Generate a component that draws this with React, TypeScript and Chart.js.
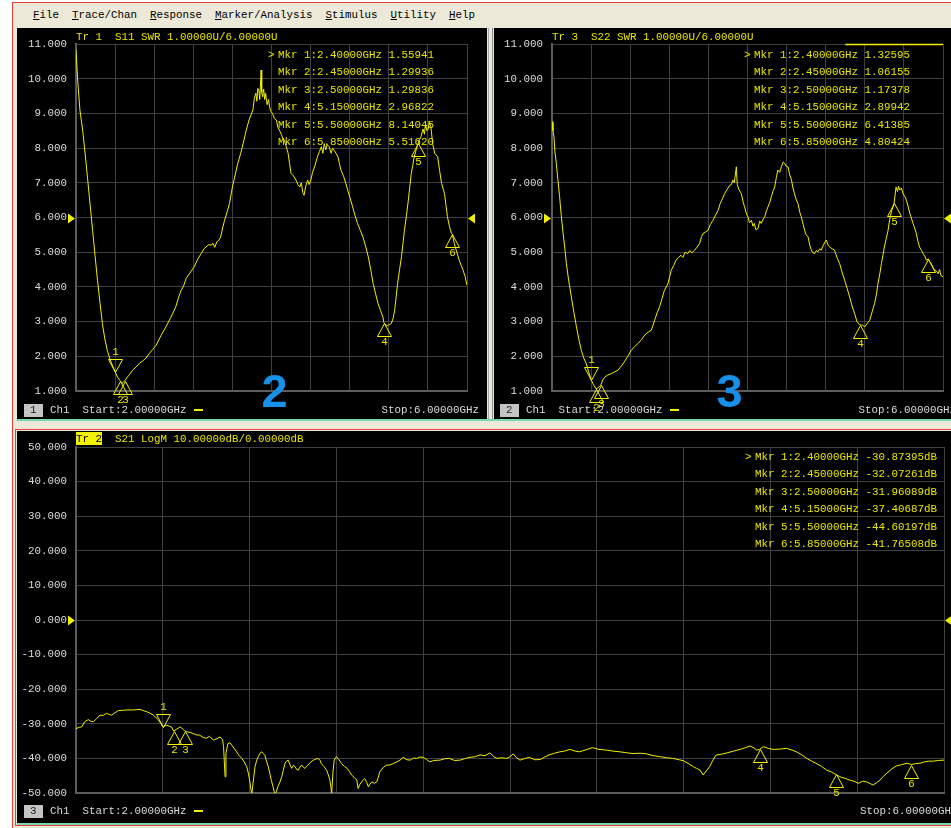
import React, { useEffect, useRef } from "react";
import { Chart, registerables } from "chart.js";

Chart.register(...registerables);

// ---- sweep / scale settings ----
const START_GHZ = 2;
const STOP_GHZ = 6;
const SWR_PER_DIV = 1;
const SWR_REF = 6;
const DB_PER_DIV = 10;
const DB_REF = 0;

// ---- S11 SWR trace ----
const S11_GHZ = [
  2.000, 2.017, 2.040, 2.068, 2.095, 2.120, 2.145, 2.170, 2.195, 2.220,
  2.245, 2.270, 2.295, 2.320, 2.350, 2.375, 2.400, 2.425, 2.450, 2.470,
  2.485, 2.500, 2.525, 2.546, 2.580, 2.614, 2.650, 2.680, 2.717, 2.750,
  2.785, 2.820, 2.870, 2.920, 2.970, 3.020, 3.050, 3.075, 3.100, 3.126,
  3.165, 3.210, 3.245, 3.280, 3.310, 3.330, 3.360, 3.385, 3.400, 3.420,
  3.440, 3.460, 3.480, 3.500, 3.520, 3.545, 3.570, 3.600, 3.630, 3.655,
  3.685, 3.710, 3.740, 3.770, 3.790, 3.810, 3.825, 3.840, 3.850, 3.860,
  3.870, 3.880, 3.894, 3.900, 3.910, 3.920, 3.930, 3.940, 3.955, 3.970,
  3.980, 3.995, 4.010, 4.030, 4.050, 4.065, 4.080, 4.100, 4.115, 4.130,
  4.150, 4.170, 4.185, 4.200, 4.225, 4.250, 4.270, 4.290, 4.305, 4.320,
  4.333, 4.350, 4.370, 4.385, 4.400, 4.420, 4.440, 4.455, 4.470, 4.490,
  4.510, 4.525, 4.540, 4.555, 4.570, 4.590, 4.610, 4.625, 4.640, 4.660,
  4.680, 4.695, 4.710, 4.740, 4.760, 4.780, 4.805, 4.830, 4.855, 4.880,
  4.910, 4.935, 4.965, 4.990, 5.015, 5.040, 5.065, 5.090, 5.115, 5.140,
  5.150, 5.170, 5.190, 5.210, 5.225, 5.245, 5.260, 5.275, 5.290, 5.310,
  5.330, 5.345, 5.360, 5.380, 5.400, 5.415, 5.430, 5.445, 5.460, 5.480,
  5.500, 5.515, 5.530, 5.550, 5.565, 5.575, 5.590, 5.600, 5.615, 5.630,
  5.650, 5.670, 5.700, 5.720, 5.740, 5.770, 5.785, 5.800, 5.820, 5.840,
  5.850, 5.870, 5.890, 5.920, 5.960, 5.980, 6.000,
];
const S11_SWR = [
  10.83, 9.96, 9.10, 8.52, 7.80, 7.08, 6.35, 5.63, 4.90, 4.19,
  3.55, 2.94, 2.50, 2.17, 1.90, 1.72, 1.55941, 1.40, 1.29936, 1.22,
  1.25, 1.29836, 1.40, 1.47, 1.60, 1.69, 1.80, 1.86, 1.95, 2.08,
  2.20, 2.32, 2.60, 2.85, 3.12, 3.42, 3.70, 3.90, 4.02, 4.24,
  4.40, 4.58, 4.80, 4.96, 5.10, 5.15, 5.22, 5.20, 5.26, 5.14,
  5.30, 5.34, 5.44, 5.70, 5.92, 6.15, 6.40, 6.88, 7.25, 7.56,
  7.85, 8.13, 8.50, 8.81, 8.95, 9.10, 9.45, 9.58, 9.35, 9.72,
  9.67, 9.40, 10.25, 9.60, 9.48, 9.70, 9.40, 9.58, 9.25, 9.40,
  9.19, 9.05, 9.00, 8.85, 8.81, 8.60, 8.52, 8.40, 8.28, 8.23,
  8.05, 7.85, 7.55, 7.27, 7.20, 7.08, 6.95, 6.88, 7.00, 6.72,
  6.64, 6.90, 7.08, 6.95, 7.05, 7.30, 7.46, 7.60, 7.75, 7.90,
  8.04, 7.85, 8.13, 7.95, 8.10, 8.04, 7.85, 8.00, 7.94, 7.85,
  7.75, 7.55, 7.37, 7.17, 6.98, 6.79, 6.55, 6.31, 6.05, 5.83,
  5.62, 5.44, 5.15, 4.87, 4.50, 4.10, 3.80, 3.52, 3.32, 3.13,
  2.96822, 2.90, 2.89, 2.92, 2.94, 3.10, 3.33, 3.70, 4.10, 4.50,
  4.87, 5.25, 5.63, 6.05, 6.50, 6.90, 7.27, 7.50, 7.75, 7.95,
  8.14045, 8.25, 8.33, 8.55, 8.40, 8.71, 8.50, 8.52, 8.75, 8.62,
  8.10, 7.85, 7.75, 7.35, 6.98, 6.69, 6.35, 6.02, 5.75, 5.55,
  5.5162, 5.25, 5.06, 4.77, 4.48, 4.30, 4.05,
];

// ---- S22 SWR trace ----
const S22_GHZ = [
  2.000, 2.010, 2.020, 2.030, 2.044, 2.060, 2.078, 2.095, 2.110, 2.130,
  2.147, 2.170, 2.198, 2.225, 2.250, 2.275, 2.300, 2.325, 2.350, 2.375,
  2.400, 2.425, 2.450, 2.475, 2.500, 2.520, 2.540, 2.570, 2.607, 2.640,
  2.675, 2.710, 2.740, 2.775, 2.810, 2.845, 2.880, 2.915, 2.948, 2.985,
  3.016, 3.050, 3.075, 3.100, 3.125, 3.150, 3.187, 3.220, 3.245, 3.270,
  3.295, 3.320, 3.340, 3.360, 3.390, 3.410, 3.430, 3.460, 3.485, 3.510,
  3.530, 3.545, 3.570, 3.596, 3.620, 3.647, 3.670, 3.700, 3.720, 3.745,
  3.766, 3.790, 3.818, 3.835, 3.850, 3.865, 3.886, 3.895, 3.910, 3.937,
  3.955, 3.970, 3.990, 4.005, 4.020, 4.040, 4.055, 4.070, 4.085, 4.107,
  4.125, 4.140, 4.160, 4.176, 4.195, 4.210, 4.230, 4.244, 4.260, 4.278,
  4.295, 4.310, 4.330, 4.346, 4.365, 4.380, 4.395, 4.415, 4.430, 4.450,
  4.465, 4.480, 4.500, 4.517, 4.535, 4.550, 4.570, 4.585, 4.600, 4.620,
  4.637, 4.653, 4.670, 4.687, 4.705, 4.720, 4.740, 4.755, 4.775, 4.795,
  4.806, 4.825, 4.840, 4.865, 4.890, 4.915, 4.943, 4.970, 4.994, 5.020,
  5.045, 5.070, 5.096, 5.120, 5.150, 5.175, 5.200, 5.225, 5.250, 5.275,
  5.300, 5.320, 5.335, 5.355, 5.370, 5.385, 5.400, 5.420, 5.438, 5.455,
  5.475, 5.500, 5.510, 5.520, 5.535, 5.545, 5.557, 5.575, 5.590, 5.610,
  5.625, 5.645, 5.660, 5.680, 5.693, 5.710, 5.727, 5.745, 5.760, 5.780,
  5.795, 5.815, 5.830, 5.850, 5.865, 5.880, 5.900, 5.915, 5.935, 5.950,
  5.965, 5.980, 6.000,
];
const S22_SWR = [
  8.76, 8.50, 8.33, 7.90, 7.56, 7.10, 6.60, 6.05, 5.63, 5.15,
  4.67, 4.20, 3.71, 3.25, 2.85, 2.48, 2.17, 1.95, 1.79, 1.55,
  1.32595, 1.18, 1.06155, 1.10, 1.17378, 1.32, 1.40, 1.46, 1.50, 1.55,
  1.60, 1.72, 1.84, 2.00, 2.17, 2.28, 2.37, 2.48, 2.61, 2.70,
  2.75, 3.04, 3.25, 3.42, 3.66, 3.90, 4.10, 4.48, 4.62, 4.77,
  4.85, 4.91, 4.85, 5.00, 4.96, 5.05, 4.98, 5.06, 5.15, 5.25,
  5.45, 5.54, 5.58, 5.63, 5.80, 5.92, 6.05, 6.21, 6.40, 6.55,
  6.69, 6.80, 6.93, 6.95, 7.08, 7.00, 7.46, 6.95, 6.82, 6.69,
  6.45, 6.31, 6.10, 6.02, 5.85, 5.92, 5.75, 5.83, 5.65, 5.68,
  5.90, 5.83, 5.95, 6.02, 6.20, 6.31, 6.45, 6.60, 6.75, 6.88,
  7.15, 7.37, 7.30, 7.46, 7.60, 7.56, 7.48, 7.46, 7.25, 7.08,
  6.85, 6.69, 6.50, 6.40, 6.15, 6.02, 5.80, 5.63, 5.50, 5.44,
  5.20, 5.06, 4.98, 4.96, 5.05, 5.01, 5.10, 5.06, 5.20, 5.30,
  5.35, 5.20, 5.15, 5.10, 5.06, 4.85, 4.67, 4.40, 4.19, 3.95,
  3.71, 3.45, 3.23, 3.00, 2.89942, 2.90, 2.85, 2.95, 3.04, 3.28,
  3.52, 3.80, 4.10, 4.40, 4.67, 4.90, 5.15, 5.40, 5.63, 5.95,
  6.20, 6.41385, 6.65, 6.88, 6.75, 6.90, 6.79, 6.85, 6.69, 6.60,
  6.50, 6.30, 6.12, 5.95, 5.83, 5.70, 5.54, 5.30, 5.15, 5.05,
  4.96, 4.88, 4.77, 4.80424, 4.72, 4.67, 4.55, 4.48, 4.45, 4.38,
  4.50, 4.32, 4.29,
];

// ---- S21 LogM trace (dB) ----
const S21_GHZ = [
  2.000, 2.015, 2.026, 2.040, 2.057, 2.070, 2.080, 2.095, 2.110, 2.125,
  2.140, 2.155, 2.165, 2.180, 2.195, 2.215, 2.234, 2.250, 2.264, 2.280,
  2.295, 2.310, 2.326, 2.340, 2.356, 2.370, 2.380, 2.390, 2.400, 2.410,
  2.418, 2.430, 2.440, 2.450, 2.465, 2.480, 2.490, 2.500, 2.510, 2.525,
  2.540, 2.555, 2.570, 2.585, 2.600, 2.615, 2.633, 2.650, 2.664, 2.675,
  2.680, 2.687, 2.691, 2.694, 2.700, 2.710, 2.718, 2.730, 2.740, 2.752,
  2.764, 2.775, 2.787, 2.795, 2.800, 2.810, 2.818, 2.825, 2.833, 2.840,
  2.848, 2.856, 2.863, 2.870, 2.878, 2.886, 2.893, 2.900, 2.908, 2.917,
  2.924, 2.930, 2.940, 2.948, 2.955, 2.963, 2.970, 2.978, 2.986, 2.994,
  3.002, 3.010, 3.017, 3.024, 3.032, 3.040, 3.047, 3.055, 3.063, 3.070,
  3.082, 3.094, 3.105, 3.117, 3.125, 3.130, 3.142, 3.155, 3.163, 3.170,
  3.175, 3.178, 3.184, 3.190, 3.200, 3.212, 3.224, 3.237, 3.250, 3.260,
  3.270, 3.282, 3.294, 3.300, 3.308, 3.317, 3.325, 3.330, 3.340, 3.347,
  3.355, 3.363, 3.375, 3.386, 3.393, 3.400, 3.416, 3.430, 3.447, 3.462,
  3.478, 3.493, 3.508, 3.525, 3.540, 3.555, 3.570, 3.585, 3.600, 3.615,
  3.630, 3.650, 3.677, 3.700, 3.720, 3.745, 3.770, 3.795, 3.816, 3.840,
  3.862, 3.885, 3.908, 3.925, 3.940, 3.960, 3.985, 4.000, 4.015, 4.030,
  4.046, 4.070, 4.090, 4.115, 4.140, 4.160, 4.180, 4.205, 4.230, 4.250,
  4.276, 4.300, 4.320, 4.350, 4.380, 4.410, 4.445, 4.475, 4.507, 4.540,
  4.568, 4.600, 4.630, 4.660, 4.690, 4.720, 4.750, 4.780, 4.800, 4.825,
  4.845, 4.860, 4.876, 4.890, 4.905, 4.920, 4.935, 4.950, 4.975, 5.000,
  5.030, 5.060, 5.085, 5.106, 5.125, 5.137, 5.150, 5.167, 5.190, 5.213,
  5.245, 5.275, 5.300, 5.320, 5.345, 5.367, 5.390, 5.410, 5.435, 5.460,
  5.480, 5.500, 5.520, 5.545, 5.567, 5.585, 5.605, 5.625, 5.644, 5.660,
  5.674, 5.690, 5.705, 5.720, 5.736, 5.760, 5.780, 5.805, 5.830, 5.850,
  5.870, 5.890, 5.910, 5.930, 5.950, 5.975, 6.000,
];
const S21_DB = [
  -31.4, -31.0, -30.9, -29.4, -28.8, -29.3, -29.4, -28.5, -27.5, -27.6,
  -27.0, -27.3, -27.5, -26.8, -26.2, -26.1, -26.0, -26.0, -26.0, -25.9,
  -25.85, -26.2, -26.5, -26.9, -27.5, -28.3, -28.9, -29.8, -30.87395, -30.6,
  -30.4, -30.7, -30.9, -32.07261, -31.5, -30.9, -31.4, -31.96089, -32.3, -32.5,
  -32.8, -33.2, -33.3, -33.9, -34.2, -33.6, -34.7, -34.3, -33.8, -34.6,
  -36.6, -45.3, -38.5, -37.6, -35.7, -35.5, -36.2, -37.2, -38.1, -39.2,
  -40.0, -41.0, -42.4, -44.5, -46.3, -50.5, -46.0, -42.4, -40.5, -39.5,
  -38.5, -38.1, -38.6, -39.1, -40.8, -42.4, -44.3, -46.3, -48.2, -50.5,
  -49.5, -48.2, -46.8, -45.3, -43.5, -41.5, -40.8, -40.5, -41.8, -42.9,
  -42.0, -42.4, -43.2, -43.4, -42.5, -41.9, -42.5, -42.9, -42.3, -41.9,
  -41.0, -40.5, -40.2, -40.0, -40.6, -41.5, -42.3, -43.4, -44.8, -46.3,
  -48.5, -50.5, -44.0, -40.5, -39.5, -40.4, -41.5, -42.3, -42.9, -43.8,
  -44.8, -45.5, -46.3, -48.7, -47.5, -46.8, -46.1, -45.8, -47.0, -48.2,
  -47.4, -46.8, -47.2, -46.8, -45.5, -43.9, -42.6, -42.0, -41.9, -41.5,
  -41.0, -40.5, -39.7, -40.4, -40.5, -39.9, -40.0, -39.6, -39.7, -40.3,
  -41.0, -40.6, -40.5, -40.1, -40.0, -40.6, -40.5, -40.0, -39.7, -39.5,
  -39.0, -39.2, -38.4, -39.5, -40.0, -39.8, -40.0, -39.5, -38.7, -39.8,
  -40.5, -40.0, -39.7, -40.4, -40.3, -39.6, -39.0, -38.5, -38.1, -37.9,
  -37.4, -37.9, -38.1, -37.5, -36.9, -37.4, -37.6, -37.9, -38.1, -38.4,
  -38.6, -38.5, -38.7, -39.2, -39.5, -39.8, -40.0, -40.4, -40.7, -41.6,
  -42.4, -42.9, -43.4, -44.8, -43.6, -42.4, -40.5, -39.0, -38.8, -38.4,
  -37.9, -37.4, -36.9, -36.4, -37.0, -37.6, -37.40687, -36.6, -37.1, -37.4,
  -37.3, -37.1, -37.6, -38.1, -39.0, -40.0, -40.8, -41.4, -42.3, -43.4,
  -43.9, -44.60197, -45.3, -45.8, -46.3, -46.6, -47.2, -46.6, -46.8, -47.3,
  -47.7, -47.0, -46.3, -45.2, -44.3, -43.0, -42.2, -41.8, -41.4, -41.76508,
  -41.5, -41.4, -41.0, -40.8, -40.8, -40.6, -40.5,
];

// ---- markers (shared frequencies) ----
const MKR_GHZ = [2.4, 2.45, 2.5, 5.15, 5.5, 5.85];
const S11_MKR = [1.55941, 1.29936, 1.29836, 2.96822, 8.14045, 5.5162];
const S22_MKR = [1.32595, 1.06155, 1.17378, 2.89942, 6.41385, 4.80424];
const S21_MKR = [-30.87395, -32.07261, -31.96089, -37.40687, -44.60197, -41.76508];
const ACTIVE_MKR = 0;

const MENU = ["File", "Trace/Chan", "Response", "Marker/Analysis", "Stimulus", "Utility", "Help"];

// ---- look ----
const MONO = '"Liberation Mono", "DejaVu Sans Mono", monospace';
const FONT_PX = 10.83;
const TRACE = "#f0f000";
const LABEL_Y = "#e6e600";
const GRID = "#404040";
const FRAME = "#5c5c5c";
const TICK = "#dcdcdc";
const RED = "#e8413c";
const GREEN = "#78d9ae";
const BEIGE = "#ece9d8";
const BLUE = "#1690e8";

type Spec = {
  ghz: number[];
  vals: number[];
  mkVals: number[];
  perDiv: number;
  ref: number;
  axisWidth: number;
  pad: { top: number; right: number; bottom: number };
  topBand?: [number, number];
};

function vnaOverlay(spec: Spec) {
  return {
    id: "vnaOverlay",
    afterDatasetsDraw(chart: any) {
      const { ctx, chartArea } = chart;
      const xs = chart.scales.x;
      const ys = chart.scales.y;
      ctx.save();

      if (spec.topBand) {
        ctx.strokeStyle = TRACE;
        ctx.lineWidth = 1.5;
        ctx.beginPath();
        ctx.moveTo(xs.getPixelForValue(spec.topBand[0]), chartArea.top + 0.5);
        ctx.lineTo(xs.getPixelForValue(spec.topBand[1]), chartArea.top + 0.5);
        ctx.stroke();
      }

      // reference-level pointers on both sides
      const yr = Math.round(ys.getPixelForValue(spec.ref)) + 0.5;
      ctx.fillStyle = TRACE;
      ctx.beginPath();
      ctx.moveTo(chartArea.left - 1, yr);
      ctx.lineTo(chartArea.left - 8, yr - 5);
      ctx.lineTo(chartArea.left - 8, yr + 5);
      ctx.closePath();
      ctx.fill();
      ctx.beginPath();
      ctx.moveTo(chartArea.right + 1, yr);
      ctx.lineTo(chartArea.right + 8, yr - 5);
      ctx.lineTo(chartArea.right + 8, yr + 5);
      ctx.closePath();
      ctx.fill();

      // marker triangles with their numbers
      ctx.strokeStyle = TRACE;
      ctx.lineWidth = 1;
      ctx.fillStyle = LABEL_Y;
      ctx.font = `${FONT_PX}px ${MONO}`;
      ctx.textAlign = "center";
      ctx.textBaseline = "middle";
      const w = 7;
      const h = 13;
      MKR_GHZ.forEach((f, i) => {
        const px = Math.round(xs.getPixelForValue(f)) + 0.5;
        const py = Math.round(ys.getPixelForValue(spec.mkVals[i])) + 0.5;
        ctx.beginPath();
        if (i === ACTIVE_MKR) {
          ctx.moveTo(px, py);
          ctx.lineTo(px - w, py - h);
          ctx.lineTo(px + w, py - h);
          ctx.closePath();
          ctx.stroke();
          ctx.fillText(String(i + 1), px, py - h - 7);
        } else {
          ctx.moveTo(px, py);
          ctx.lineTo(px - w, py + h);
          ctx.lineTo(px + w, py + h);
          ctx.closePath();
          ctx.stroke();
          ctx.fillText(String(i + 1), px, py + h + 6);
        }
      });
      ctx.restore();
    },
  };
}

function TracePlot({ spec, width, height }: { spec: Spec; width: number; height: number }) {
  const ref = useRef<HTMLCanvasElement | null>(null);
  useEffect(() => {
    if (!ref.current) return;
    const yMin = spec.ref - 5 * spec.perDiv;
    const yMax = spec.ref + 5 * spec.perDiv;
    const chart = new Chart(ref.current, {
      type: "line",
      data: {
        datasets: [
          {
            data: spec.ghz.map((f, i) => ({ x: f, y: spec.vals[i] })),
            borderColor: TRACE,
            borderWidth: 1,
            pointRadius: 0,
            tension: 0,
            fill: false,
          },
        ],
      },
      options: {
        animation: false,
        responsive: false,
        maintainAspectRatio: false,
        events: [],
        layout: { padding: { left: 0, top: spec.pad.top, right: spec.pad.right, bottom: spec.pad.bottom } },
        plugins: { legend: { display: false }, tooltip: { enabled: false }, title: { display: false } },
        scales: {
          x: {
            type: "linear",
            min: START_GHZ,
            max: STOP_GHZ,
            ticks: { display: false, stepSize: (STOP_GHZ - START_GHZ) / 10 },
            grid: { color: GRID, drawTicks: false, lineWidth: 1 },
            border: { color: FRAME, width: 2 },
          },
          y: {
            type: "linear",
            min: yMin,
            max: yMax,
            afterFit: (scale: any) => {
              scale.width = spec.axisWidth;
            },
            ticks: {
              stepSize: spec.perDiv,
              color: TICK,
              padding: 9,
              font: { family: MONO, size: FONT_PX },
              callback: (v: any) => Number(v).toFixed(3),
            },
            grid: { color: GRID, drawTicks: false, lineWidth: 1 },
            border: { color: FRAME, width: 2 },
          },
        },
      },
      plugins: [vnaOverlay(spec)],
    } as any);
    return () => chart.destroy();
  }, [spec, width, height]);
  return <canvas ref={ref} width={width} height={height} style={{ display: "block", width, height }} />;
}

const textBase: React.CSSProperties = {
  position: "absolute",
  font: `${FONT_PX}px ${MONO}`,
  lineHeight: "14px",
  height: 14,
  whiteSpace: "pre",
};

function Txt({ x, y, color = TICK, children, style }: { x: number; y: number; color?: string; children: React.ReactNode; style?: React.CSSProperties }) {
  return <div style={{ ...textBase, left: x, top: y - 7, color, ...style }}>{children}</div>;
}

function MarkerList({ x, y, vals, unit }: { x: number; y: number; vals: number[]; unit: string }) {
  return (
    <>
      <Txt x={x - 10} y={y} color={LABEL_Y}>{">"}</Txt>
      {MKR_GHZ.map((f, i) => (
        <Txt key={i} x={x} y={y + i * 17.45} color={LABEL_Y}>
          {`Mkr ${i + 1}:${f.toFixed(5)}GHz ${vals[i].toFixed(5)}${unit}`}
        </Txt>
      ))}
    </>
  );
}

function ChannelBar({ x, y, num, stopX }: { x: number; y: number; num: number; stopX: number }) {
  return (
    <>
      <div style={{ position: "absolute", left: x, top: y - 6, width: 19, height: 13, background: "#c4c4c4" }} />
      <Txt x={x + 6} y={y} color="#202020">{String(num)}</Txt>
      <Txt x={x + 26} y={y}>{`Ch1  Start:${START_GHZ.toFixed(5)}GHz`}</Txt>
      <div style={{ position: "absolute", left: x + 170, top: y - 1, width: 9, height: 2, background: TRACE }} />
      <Txt x={stopX} y={y}>{`Stop:${STOP_GHZ.toFixed(5)}GHz`}</Txt>
    </>
  );
}

const S11_SPEC: Spec = {
  ghz: S11_GHZ, vals: S11_SWR, mkVals: S11_MKR, perDiv: SWR_PER_DIV, ref: SWR_REF,
  axisWidth: 59, pad: { top: 16, right: 20, bottom: 28 },
};
const S22_SPEC: Spec = {
  ghz: S22_GHZ, vals: S22_SWR, mkVals: S22_MKR, perDiv: SWR_PER_DIV, ref: SWR_REF,
  axisWidth: 58, pad: { top: 16, right: 8, bottom: 28 }, topBand: [5.0, 6.0],
};
const S21_SPEC: Spec = {
  ghz: S21_GHZ, vals: S21_DB, mkVals: S21_MKR, perDiv: DB_PER_DIV, ref: DB_REF,
  axisWidth: 59, pad: { top: 16, right: 7, bottom: 30 },
};

const swrTitle = `SWR ${SWR_PER_DIV.toFixed(5)}U/${SWR_REF.toFixed(5)}U`;
const dbTitle = `LogM ${DB_PER_DIV.toFixed(5)}dB/${DB_REF.toFixed(5)}dB`;

export default function App() {
  return (
    <div style={{ position: "fixed", left: 0, top: 0, width: 951, height: 828, overflow: "hidden", background: "#fff" }}>
      {/* application window */}
      <div style={{ position: "absolute", left: 12, top: 2, width: 960, height: 830, background: BEIGE, borderLeft: `1px solid ${RED}`, borderTop: `1px solid ${RED}` }} />

      {/* menu bar */}
      <div style={{ ...textBase, left: 33, top: 8, color: "#000" }}>
        {MENU.map((m, i) => (
          <span key={m}>
            <u>{m[0]}</u>
            {m.slice(1)}
            {i < MENU.length - 1 ? "  " : ""}
          </span>
        ))}
      </div>

      {/* upper-left: S11 */}
      <div style={{ position: "absolute", left: 17, top: 28, width: 470, height: 391, background: "#000" }}>
        <TracePlot spec={S11_SPEC} width={470} height={391} />
      </div>
      {/* splitter */}
      <div style={{ position: "absolute", left: 488, top: 28, width: 1, height: 392, background: "#a8a8a8" }} />
      <div style={{ position: "absolute", left: 492, top: 28, width: 1, height: 392, background: "#8a8a8a" }} />
      {/* upper-right: S22 */}
      <div style={{ position: "absolute", left: 494, top: 28, width: 457, height: 391, background: "#000" }}>
        <TracePlot spec={S22_SPEC} width={457} height={391} />
      </div>
      <div style={{ position: "absolute", left: 17, top: 419, width: 934, height: 2, background: GREEN }} />

      {/* lower: S21 with active frame */}
      <div style={{ position: "absolute", left: 15, top: 429, width: 940, height: 397, border: `1.5px solid ${RED}`, boxSizing: "border-box" }} />
      <div style={{ position: "absolute", left: 17, top: 431, width: 934, height: 392, background: "#000" }}>
        <TracePlot spec={S21_SPEC} width={934} height={392} />
      </div>
      <div style={{ position: "absolute", left: 17, top: 823, width: 934, height: 2, background: GREEN }} />

      {/* trace titles */}
      <Txt x={76} y={37} color={LABEL_Y}>{`Tr 1  S11 ${swrTitle}`}</Txt>
      <Txt x={552} y={37} color={LABEL_Y}>{`Tr 3  S22 ${swrTitle}`}</Txt>
      <div style={{ position: "absolute", left: 76, top: 432, width: 26, height: 13, background: TRACE }} />
      <Txt x={76} y={438.5} color="#000">{"Tr 2"}</Txt>
      <Txt x={115} y={438.5} color={LABEL_Y}>{`S21 ${dbTitle}`}</Txt>

      {/* marker readouts */}
      <MarkerList x={278} y={55} vals={S11_MKR} unit="" />
      <MarkerList x={754} y={55} vals={S22_MKR} unit="" />
      <MarkerList x={755} y={456.7} vals={S21_MKR} unit="dB" />

      {/* channel bars */}
      <ChannelBar x={24} y={410} num={1} stopX={381.5} />
      <ChannelBar x={500} y={410} num={2} stopX={858.5} />
      <ChannelBar x={24} y={811} num={3} stopX={860} />

      {/* panel numbers */}
      <div style={{ position: "absolute", left: 261.5, top: 367, font: 'bold 47px "Liberation Sans", Arial, sans-serif', lineHeight: "47px", color: BLUE }}>2</div>
      <div style={{ position: "absolute", left: 716.5, top: 367, font: 'bold 47px "Liberation Sans", Arial, sans-serif', lineHeight: "47px", color: BLUE }}>3</div>
    </div>
  );
}
